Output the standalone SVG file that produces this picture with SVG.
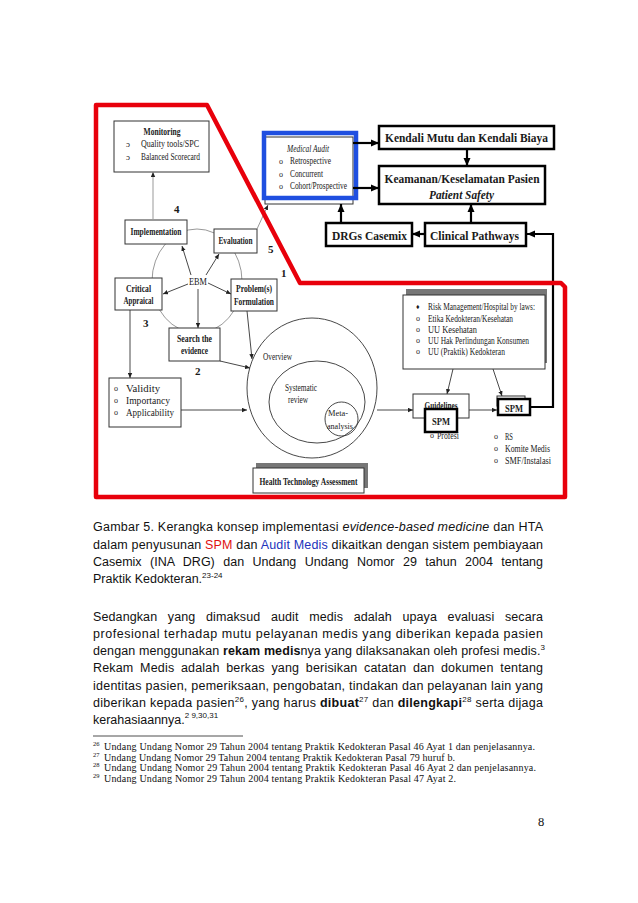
<svg xmlns="http://www.w3.org/2000/svg" width="638" height="903" viewBox="0 0 638 903">
<defs>
<style>
.s{font-family:"Liberation Serif","Times New Roman",serif;fill:#1a1a1a}
.b{font-weight:bold}
.m{text-anchor:middle}
.thin{fill:#fff;stroke:#333;stroke-width:1}
.thick{fill:#fff;stroke:#000;stroke-width:2.5}
.ln{stroke:#333;stroke-width:0.9;fill:none}
.gl{stroke:#999;stroke-width:1;fill:none}
.tk{stroke:#000;stroke-width:2.2;fill:none}
.c{font-family:"Liberation Sans",Arial,sans-serif;font-size:12.5px;fill:#111}
.f{font-family:"Liberation Serif","Times New Roman",serif;font-size:10px;fill:#111}
.fs{font-family:"Liberation Serif","Times New Roman",serif;font-size:6.5px;fill:#111}
.sh{fill:#777}
</style>
<marker id="as" markerWidth="5" markerHeight="5" refX="5" refY="2.5" orient="auto" markerUnits="userSpaceOnUse"><path d="M0,0.3 L5,2.5 L0,4.7 z" fill="#222"/></marker>
<marker id="ab" markerWidth="8" markerHeight="8" refX="8" refY="4" orient="auto" markerUnits="userSpaceOnUse"><path d="M0,0.5 L8,4 L0,7.5 z" fill="#000"/></marker>
</defs>
<rect width="638" height="903" fill="#fff"/>

<g id="cycle">
<ellipse cx="197" cy="281" rx="45" ry="52" class="gl"/>
</g>

<g id="circles">
<ellipse cx="312" cy="388" rx="65" ry="70" class="ln" stroke="#555"/>
<ellipse cx="317" cy="402" rx="48" ry="41" class="ln" stroke="#555"/>
<ellipse cx="341.5" cy="419" rx="16.5" ry="17" class="ln" stroke="#555"/>
<text class="s" x="263" y="360" font-size="9.5" textLength="29" lengthAdjust="spacingAndGlyphs">Overview</text>
<text class="s" x="285" y="391" font-size="9.5" textLength="32" lengthAdjust="spacingAndGlyphs">Systematic</text>
<text class="s" x="288" y="403" font-size="9.5" textLength="20" lengthAdjust="spacingAndGlyphs">review</text>
<text class="s" x="328" y="416" font-size="9" textLength="20" lengthAdjust="spacingAndGlyphs">Meta-</text>
<text class="s" x="327" y="429" font-size="9" textLength="26" lengthAdjust="spacingAndGlyphs">analysis</text>
</g>

<g id="monitoring">
<rect x="114" y="121" width="95" height="51" class="thin"/>
<text class="s b m" x="162" y="135" font-size="10.5" textLength="37" lengthAdjust="spacingAndGlyphs">Monitoring</text>
<text class="s" x="126" y="147" font-size="9">ɔ</text>
<text class="s" x="126" y="160" font-size="9">ɔ</text>
<text class="s" x="141" y="147" font-size="10" textLength="58" lengthAdjust="spacingAndGlyphs">Quality tools/SPC</text>
<text class="s" x="141" y="160" font-size="10" textLength="59" lengthAdjust="spacingAndGlyphs">Balanced Scorecard</text>
</g>

<g id="implementation">
<rect x="125" y="220" width="62" height="24" class="thin"/>
<text class="s b m" x="156" y="235" font-size="10.5" textLength="51" lengthAdjust="spacingAndGlyphs">Implementation</text>
</g>
<g id="evaluation">
<rect x="214" y="229" width="43" height="24" class="thin"/>
<text class="s b m" x="235.5" y="244" font-size="10.5" textLength="34" lengthAdjust="spacingAndGlyphs">Evaluation</text>
</g>
<g id="critical">
<rect x="115" y="278" width="47" height="32" class="thin"/>
<text class="s b m" x="138.5" y="291.5" font-size="10.5" textLength="25" lengthAdjust="spacingAndGlyphs">Critical</text>
<text class="s b m" x="138.5" y="304" font-size="10.5" textLength="30" lengthAdjust="spacingAndGlyphs">Appraical</text>
</g>
<g id="problem">
<rect x="231" y="279" width="46" height="32" class="thin"/>
<text class="s b m" x="254" y="292" font-size="10.5" textLength="36" lengthAdjust="spacingAndGlyphs">Problem(s)</text>
<text class="s b m" x="254" y="305" font-size="10.5" textLength="40" lengthAdjust="spacingAndGlyphs">Formulation</text>
</g>
<g id="search">
<rect x="169" y="328" width="51" height="33" class="thin"/>
<text class="s b m" x="194.5" y="342" font-size="10.5" textLength="35" lengthAdjust="spacingAndGlyphs">Search the</text>
<text class="s b m" x="194.5" y="354" font-size="10.5" textLength="27" lengthAdjust="spacingAndGlyphs">evidence</text>
</g>
<g id="ebm">
<text class="s m" x="198" y="285" font-size="11" textLength="18" lengthAdjust="spacingAndGlyphs">EBM</text>
</g>
<g id="numbers">
<text class="s b" x="174" y="213" font-size="11">4</text>
<text class="s b" x="268" y="253" font-size="11">5</text>
<text class="s b" x="281" y="277" font-size="11">1</text>
<text class="s b" x="143" y="327" font-size="11">3</text>
<text class="s b" x="195" y="375" font-size="11">2</text>
</g>
<g id="validity">
<rect x="109" y="378" width="72" height="49" class="thin"/>
<text class="s" x="114" y="391" font-size="8">o</text>
<text class="s" x="114" y="403" font-size="8">o</text>
<text class="s" x="114" y="415" font-size="8">o</text>
<text class="s" x="126" y="392" font-size="10" textLength="34" lengthAdjust="spacingAndGlyphs">Validity</text>
<text class="s" x="126" y="404" font-size="10" textLength="44" lengthAdjust="spacingAndGlyphs">Importancy</text>
<text class="s" x="126" y="416" font-size="10" textLength="48" lengthAdjust="spacingAndGlyphs">Applicability</text>
</g>
<g id="hta">
<rect x="256" y="463" width="112" height="25" class="sh"/>
<rect x="253" y="468" width="111" height="25" class="thin"/>
<text class="s b m" x="308.5" y="485" font-size="10.5" textLength="98" lengthAdjust="spacingAndGlyphs">Health Technology Assessment</text>
</g>

<g id="medical-audit">
<rect x="265" y="137" width="88" height="67" class="thin" stroke="#555"/>
<text class="s m" x="308" y="152" font-size="10" font-style="italic" textLength="42" lengthAdjust="spacingAndGlyphs">Medical Audit</text>
<text class="s" x="279" y="164" font-size="8">o</text>
<text class="s" x="279" y="177" font-size="8">o</text>
<text class="s" x="279" y="189" font-size="8">o</text>
<text class="s" x="290" y="164" font-size="10" textLength="41" lengthAdjust="spacingAndGlyphs">Retrospective</text>
<text class="s" x="290" y="177" font-size="10" textLength="33" lengthAdjust="spacingAndGlyphs">Concurrent</text>
<text class="s" x="290" y="189" font-size="10" textLength="57" lengthAdjust="spacingAndGlyphs">Cohort/Prospective</text>
<rect x="264" y="133" width="92" height="65" fill="none" stroke="#1f4fe0" stroke-width="4.5"/>
</g>

<g id="kendali">
<rect x="379" y="126" width="175" height="23" class="thick"/>
<text class="s b m" x="466.5" y="142" font-size="12.5" textLength="163" lengthAdjust="spacingAndGlyphs">Kendali Mutu dan Kendali Biaya</text>
</g>
<g id="keamanan">
<rect x="379" y="166" width="166" height="38" class="thick"/>
<text class="s b m" x="462" y="183" font-size="12.5" textLength="155" lengthAdjust="spacingAndGlyphs">Keamanan/Keselamatan Pasien</text>
<text class="s b m" x="461.5" y="198.5" font-size="12" font-style="italic" textLength="65" lengthAdjust="spacingAndGlyphs">Patient Safety</text>
</g>
<g id="drgs">
<rect x="326" y="223" width="86" height="23" class="thick"/>
<text class="s b m" x="369.5" y="239.5" font-size="12.5" textLength="75" lengthAdjust="spacingAndGlyphs">DRGs Casemix</text>
</g>
<g id="clinical">
<rect x="425" y="223" width="101" height="23" class="thick"/>
<text class="s b m" x="474.5" y="239.5" font-size="12.5" textLength="89" lengthAdjust="spacingAndGlyphs">Clinical Pathways</text>
</g>

<g id="risk">
<rect x="406" y="289" width="141" height="74" class="sh"/>
<rect x="403" y="295" width="142" height="74" class="thin"/>
<text class="s" x="416" y="309" font-size="7">♦</text>
<text class="s" x="416" y="321" font-size="8">o</text>
<text class="s" x="416" y="332" font-size="8">o</text>
<text class="s" x="416" y="343" font-size="8">o</text>
<text class="s" x="416" y="354" font-size="8">o</text>
<text class="s" x="428" y="310" font-size="9.5" textLength="107" lengthAdjust="spacingAndGlyphs">Risk Management/Hospital by laws:</text>
<text class="s" x="428" y="321.5" font-size="9.5" textLength="85" lengthAdjust="spacingAndGlyphs">Etika Kedokteran/Kesehatan</text>
<text class="s" x="428" y="332.5" font-size="9.5" textLength="49" lengthAdjust="spacingAndGlyphs">UU Kesehatan</text>
<text class="s" x="428" y="343.5" font-size="9.5" textLength="101" lengthAdjust="spacingAndGlyphs">UU Hak Perlindungan Konsumen</text>
<text class="s" x="428" y="355" font-size="9.5" textLength="77" lengthAdjust="spacingAndGlyphs">UU (Praktik) Kedokteran</text>
</g>

<g id="guidelines">
<rect x="413" y="394" width="56" height="24" class="thin"/>
<text class="s b m" x="441" y="408.5" font-size="10.5" textLength="33" lengthAdjust="spacingAndGlyphs">Guidelines</text>
<rect x="425" y="409" width="32" height="23" class="thick"/>
<text class="s b m" x="441" y="425" font-size="10.5" textLength="18" lengthAdjust="spacingAndGlyphs">SPM</text>
<text class="s" x="430" y="438" font-size="8">o</text>
<text class="s" x="437" y="439" font-size="9.5" textLength="22" lengthAdjust="spacingAndGlyphs">Profesi</text>
</g>

<g id="spm">
<rect x="497" y="396" width="28" height="10" class="thin"/>
<rect x="498" y="399" width="32" height="16" class="thick"/>
<text class="s b m" x="514" y="411.5" font-size="10.5" textLength="18" lengthAdjust="spacingAndGlyphs">SPM</text>
<text class="s" x="494" y="439" font-size="8">o</text>
<text class="s" x="494" y="451" font-size="8">o</text>
<text class="s" x="494" y="463" font-size="8">o</text>
<text class="s" x="505" y="440" font-size="9.5" textLength="8" lengthAdjust="spacingAndGlyphs">RS</text>
<text class="s" x="505" y="452" font-size="9.5" textLength="45" lengthAdjust="spacingAndGlyphs">Komite Medis</text>
<text class="s" x="505" y="464" font-size="9.5" textLength="46" lengthAdjust="spacingAndGlyphs">SMF/Instalasi</text>
</g>

<g id="connectors">
<line x1="153" y1="220" x2="153" y2="172" class="gl" marker-end="url(#as)"/>
<line x1="257" y1="229" x2="268" y2="205" class="gl" marker-end="url(#as)"/>
<line x1="191" y1="275" x2="182" y2="246" class="ln" marker-end="url(#as)"/>
<line x1="206" y1="275" x2="219" y2="254" class="ln" marker-end="url(#as)"/>
<line x1="188" y1="284" x2="163" y2="294" class="ln" marker-end="url(#as)"/>
<line x1="208" y1="283" x2="231" y2="294" class="ln" marker-end="url(#as)"/>
<line x1="198" y1="289" x2="198" y2="328" class="ln" marker-end="url(#as)"/>
<line x1="130" y1="310" x2="130" y2="378" class="ln" marker-end="url(#as)"/>
<line x1="181" y1="410" x2="247" y2="410" class="ln" marker-end="url(#as)"/>
<line x1="247" y1="311" x2="252" y2="359" class="ln" marker-end="url(#as)"/>
<line x1="220" y1="361" x2="250" y2="368" class="ln" marker-end="url(#as)"/>
<line x1="377" y1="410" x2="413" y2="410" class="ln" marker-end="url(#as)"/>
<line x1="469" y1="410" x2="497" y2="410" class="ln" marker-end="url(#as)"/>
<line x1="453" y1="369" x2="447" y2="394" class="ln" marker-end="url(#as)"/>
<line x1="493" y1="369" x2="502" y2="396" class="ln" marker-end="url(#as)"/>
<path d="M530,407 H553 V234 H527" class="tk" marker-end="url(#ab)"/>
<line x1="353" y1="143" x2="379" y2="143" class="tk" marker-end="url(#ab)"/>
<line x1="353" y1="188" x2="379" y2="188" class="tk" marker-end="url(#ab)"/>
<line x1="467" y1="149" x2="467" y2="166" class="tk" stroke-width="1.6" marker-end="url(#ab)"/>
<line x1="471" y1="223" x2="471" y2="204" class="tk" stroke-width="1.6" marker-end="url(#ab)"/>
<line x1="425" y1="234" x2="412" y2="234" class="tk" stroke-width="1.6" marker-end="url(#ab)"/>
<line x1="341" y1="223" x2="341" y2="204" class="tk" stroke-width="1.6" marker-end="url(#ab)"/>
</g>

<g id="red-outline">
<polygon points="96,105 207,105 300,283 561,283 565,287 565,497 96,497" fill="none" stroke="#e8000b" stroke-width="4.5" stroke-linejoin="round"/>
</g>

<g id="caption">
<text class="c" x="93" y="531" textLength="450" lengthAdjust="spacing">Gambar 5. Kerangka konsep implementasi <tspan font-style="italic">evidence-based medicine</tspan> dan HTA</text>
<text class="c" x="93" y="548.5" textLength="450" lengthAdjust="spacing">dalam penyusunan <tspan fill="#e01010">SPM</tspan> dan <tspan fill="#2233bb">Audit Medis</tspan> dikaitkan dengan sistem pembiayaan</text>
<text class="c" x="93" y="566" textLength="450" lengthAdjust="spacing" word-spacing="5">Casemix (INA DRG) dan Undang Undang Nomor 29 tahun 2004 tentang</text>
<text class="c" x="93" y="583">Praktik Kedokteran.<tspan font-size="8" baseline-shift="5">23-24</tspan></text>
</g>

<g id="paragraph">
<text class="c" x="93" y="620.5" textLength="450" lengthAdjust="spacing" word-spacing="7">Sedangkan yang dimaksud audit medis adalah upaya evaluasi secara</text>
<text class="c" x="93" y="638" textLength="450" lengthAdjust="spacing">profesional terhadap mutu pelayanan medis yang diberikan kepada pasien</text>
<text class="c" x="93" y="655" textLength="452" lengthAdjust="spacing">dengan menggunakan <tspan font-weight="bold">rekam medis</tspan>nya yang dilaksanakan oleh profesi medis.<tspan font-size="8" baseline-shift="5">3</tspan></text>
<text class="c" x="93" y="672" textLength="450" lengthAdjust="spacing" word-spacing="3">Rekam Medis adalah berkas yang berisikan catatan dan dokumen tentang</text>
<text class="c" x="93" y="689.5" textLength="450" lengthAdjust="spacing">identitas pasien, pemeriksaan, pengobatan, tindakan dan pelayanan lain yang</text>
<text class="c" x="93" y="706.5" textLength="450" lengthAdjust="spacing">diberikan kepada pasien<tspan font-size="8" baseline-shift="5">26</tspan>, yang harus <tspan font-weight="bold">dibuat</tspan><tspan font-size="8" baseline-shift="5">27</tspan> dan <tspan font-weight="bold">dilengkapi</tspan><tspan font-size="8" baseline-shift="5">28</tspan> serta dijaga</text>
<text class="c" x="93" y="723.5">kerahasiaannya.<tspan font-size="8" baseline-shift="6">2 9,30,31</tspan></text>
</g>

<g id="footnotes">
<line x1="93" y1="736" x2="243" y2="736" stroke="#222" stroke-width="0.8"/>
<text class="fs" x="93" y="746">26</text>
<text class="f" x="104" y="750" textLength="431" lengthAdjust="spacing">Undang Undang Nomor 29 Tahun 2004 tentang Praktik Kedokteran Pasal 46 Ayat 1 dan penjelasannya.</text>
<text class="fs" x="93" y="756.5">27</text>
<text class="f" x="104" y="760.5" textLength="351" lengthAdjust="spacing">Undang Undang Nomor 29 Tahun 2004 tentang Praktik Kedokteran Pasal 79 huruf b.</text>
<text class="fs" x="93" y="767">28</text>
<text class="f" x="104" y="771" textLength="432" lengthAdjust="spacing">Undang Undang Nomor 29 Tahun 2004 tentang Praktik Kedokteran Pasal 46 Ayat 2 dan penjelasannya.</text>
<text class="fs" x="93" y="777.5">29</text>
<text class="f" x="104" y="781.5" textLength="352" lengthAdjust="spacing">Undang Undang Nomor 29 Tahun 2004 tentang Praktik Kedokteran Pasal 47 Ayat 2.</text>
<text class="f" x="538" y="826" style="font-size:12.5px">8</text>
</g>
</svg>
